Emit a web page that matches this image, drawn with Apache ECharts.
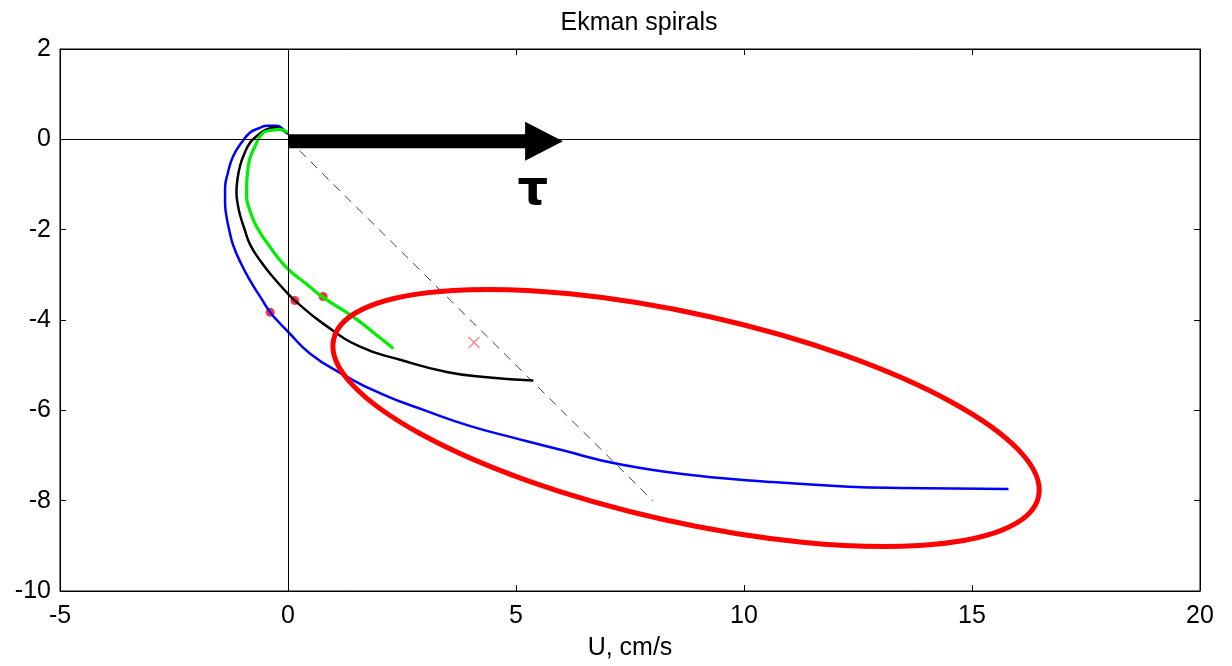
<!DOCTYPE html>
<html>
<head>
<meta charset="utf-8">
<script src="https://cdn.jsdelivr.net/npm/echarts@6/dist/echarts.min.js"></script>
<style>
  html, body { margin: 0; padding: 0; background: #fff; }
  #chart { width: 1232px; height: 666px; }
</style>
</head>
<body>
<div id="chart"></div>
<script>
// spiral traces [U, V] in cm/s, from depth up to the surface
const blueSpiral = [
  [0, 0.12], [-0.1, 0.22], [-0.25, 0.3], [-0.45, 0.3], [-0.65, 0.24], [-0.83, 0.15],
  [-1.0, -0.05], [-1.2, -0.37], [-1.32, -0.75], [-1.38, -1.09], [-1.38, -1.4],
  [-1.35, -1.7], [-1.29, -2.0], [-1.2, -2.35], [-1.03, -2.75], [-0.83, -3.13],
  [-0.6, -3.5], [-0.39, -3.83], [-0.2, -4.05], [0, -4.26], [0.48, -4.74],
  [1.14, -5.17], [2.09, -5.65], [3, -6.0], [4, -6.35], [5, -6.62], [6, -6.88],
  [7.3, -7.2], [9, -7.45], [10.5, -7.58], [12.3, -7.69], [13.4, -7.72], [15.8, -7.74]
];
const blackSpiral = [
  [0, 0.12], [-0.15, 0.22], [-0.3, 0.26], [-0.47, 0.22], [-0.65, 0.1], [-0.83, -0.07],
  [-0.97, -0.35], [-1.05, -0.58], [-1.11, -0.9], [-1.13, -1.17], [-1.1, -1.45],
  [-1.05, -1.68], [-0.95, -2.0], [-0.83, -2.33], [-0.6, -2.7], [-0.32, -3.06],
  [0, -3.42], [0.15, -3.57], [0.77, -4.08], [1.58, -4.59], [2.46, -4.88],
  [3.48, -5.15], [4.36, -5.27], [5.38, -5.34]
];
const greenSpiral = [
  [0, 0.15], [-0.18, 0.22], [-0.36, 0.2], [-0.54, 0.15], [-0.72, -0.15],
  [-0.87, -0.58], [-0.91, -1.17], [-0.8, -1.68], [-0.62, -2.05], [-0.43, -2.33],
  [-0.2, -2.65], [0.04, -2.91], [0.4, -3.2], [0.77, -3.5], [1.43, -3.93],
  [1.9, -4.3], [2.31, -4.63]
];
const depthMarks = [[-0.39, -3.83], [0.15, -3.57], [0.77, -3.48]];
const transportMark = [[4.08, -4.5]];
const diagonal = [[0, 0], [8, -8]];

// wind stress arrow and highlight ellipse (data units)
const arrowShaft = [[0, -0.04], [5.2, -0.04]];
const arrowTip = [6.03, -0.04];
const tauPos = [5.37, -1.16];
const ellipseCenter = [8.73, -6.17];
const ellipseAxes = [7.92, 2.28];
const ellipseTiltDeg = 12.6;

const xTicks = { min: -5, max: 20, step: 5 };
const yTicks = { min: -10, max: 2, step: 2 };

const font = 'Liberation Sans, Arial, sans-serif';
const chart = echarts.init(document.getElementById('chart'));

const axisBase = {
  type: 'value',
  axisLine: { show: true, onZero: false, lineStyle: { color: '#000', width: 1 } },
  axisTick: { show: true, inside: true, length: 6, lineStyle: { color: '#000' } },
  splitLine: { show: false }
};

const option = {
  animation: false,
  title: {
    text: 'Ekman spirals',
    left: 634,
    top: 6,
    textAlign: 'center',
    textStyle: { fontFamily: font, fontSize: 25, fontWeight: 'normal', color: '#000' }
  },
  grid: {
    left: 60, right: 32, top: 49, bottom: 69,
    show: true, borderColor: '#000', borderWidth: 1
  },
  xAxis: [
    Object.assign({}, axisBase, {
      min: xTicks.min, max: xTicks.max, interval: xTicks.step,
      position: 'bottom',
      name: 'U, cm/s', nameLocation: 'middle', nameGap: 45,
      nameTextStyle: { fontFamily: font, fontSize: 25, color: '#000' },
      axisLabel: { fontFamily: font, fontSize: 25, color: '#000', margin: 13 }
    }),
    Object.assign({}, axisBase, {
      min: xTicks.min, max: xTicks.max, interval: xTicks.step,
      position: 'top', axisLabel: { show: false }
    })
  ],
  yAxis: [
    Object.assign({}, axisBase, {
      min: yTicks.min, max: yTicks.max, interval: yTicks.step,
      position: 'left',
      axisLabel: { fontFamily: font, fontSize: 25, color: '#000', margin: 9 }
    }),
    Object.assign({}, axisBase, {
      min: yTicks.min, max: yTicks.max, interval: yTicks.step,
      position: 'right', axisLabel: { show: false }
    })
  ],
  series: [
    {
      type: 'line', data: diagonal, showSymbol: false,
      lineStyle: { color: '#444', width: 1, type: [9, 7] },
      markLine: {
        silent: true, symbol: 'none', label: { show: false },
        lineStyle: { color: '#000', width: 1, type: 'solid' },
        data: [{ xAxis: 0 }, { yAxis: 0 }]
      }
    },
    { type: 'line', data: blueSpiral, showSymbol: false, smooth: true,
      lineStyle: { color: '#0000ff', width: 2.5 } },
    { type: 'line', data: blackSpiral, showSymbol: false, smooth: true,
      lineStyle: { color: '#000', width: 2.5 } },
    { type: 'line', data: greenSpiral, showSymbol: false, smooth: true,
      lineStyle: { color: '#00ee00', width: 3.2 } },
    { type: 'scatter', data: depthMarks, symbol: 'circle', symbolSize: 9,
      itemStyle: { color: '#ff0000' } },
    { type: 'scatter', data: transportMark,
      symbol: 'path://M0,0L10,10M10,0L0,10', symbolSize: 11,
      itemStyle: { color: 'none', borderColor: '#ff6666', borderWidth: 1.3 } }
  ]
};

chart.setOption(option);

// annotations placed through the grid's own scales
const toPx = p => chart.convertToPixel({ gridIndex: 0 }, p);
const c = toPx(ellipseCenter);
const rx = toPx([ellipseCenter[0] + ellipseAxes[0], ellipseCenter[1]])[0] - c[0];
const ry = toPx([ellipseCenter[0] + ellipseAxes[1], ellipseCenter[1]])[0] - c[0];
const s0 = toPx(arrowShaft[0]);
const s1 = toPx(arrowShaft[1]);
const tip = toPx(arrowTip);
const half = 7, headHalf = 19.5;
const tau = toPx(tauPos);

chart.setOption({
  graphic: [
    {
      type: 'ellipse', x: c[0], y: c[1],
      rotation: -ellipseTiltDeg * Math.PI / 180,
      shape: { cx: 0, cy: 0, rx: rx, ry: ry },
      style: { fill: 'none', stroke: '#ff0000', lineWidth: 5 },
      z: 100
    },
    {
      type: 'polygon',
      shape: { points: [
        [s0[0], s0[1] - half], [s1[0], s1[1] - half], [s1[0], s1[1] - headHalf],
        [tip[0], tip[1]], [s1[0], s1[1] + headHalf], [s1[0], s1[1] + half],
        [s0[0], s0[1] + half]
      ] },
      style: { fill: '#000' },
      z: 100
    },
    {
      type: 'text', x: tau[0], y: tau[1],
      style: { text: 'τ', fontFamily: 'DejaVu Sans', fontWeight: 'bold', fontSize: 48,
        fill: '#000', align: 'center', verticalAlign: 'middle' },
      z: 100
    }
  ]
});
</script>
</body>
</html>
